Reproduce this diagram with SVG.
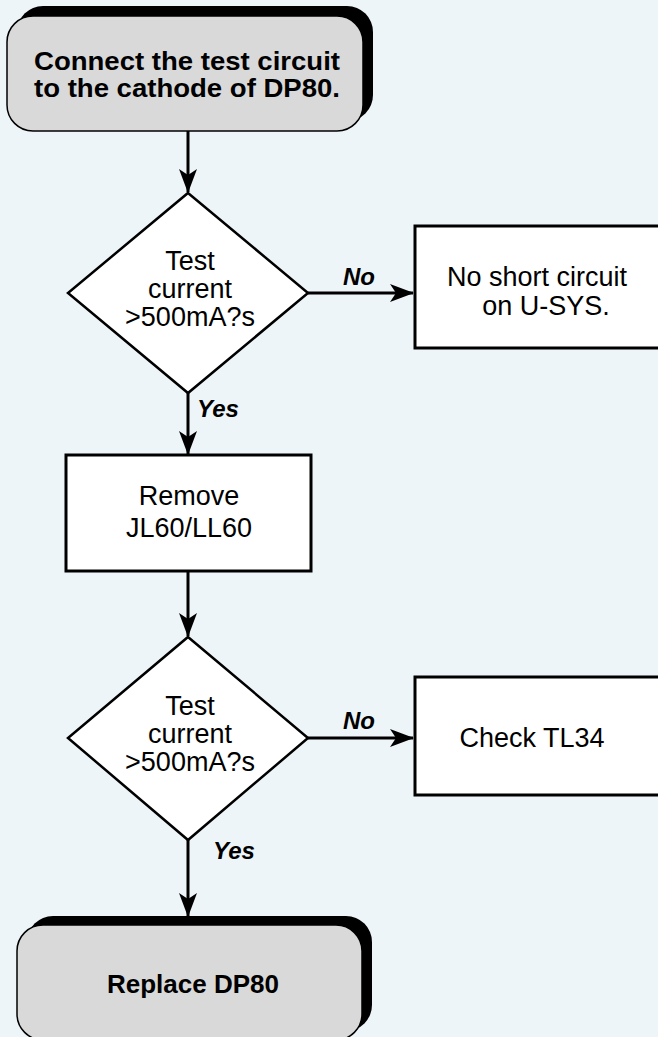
<svg xmlns="http://www.w3.org/2000/svg" width="658" height="1037" viewBox="0 0 658 1037">
<defs>
<marker id="ah" markerWidth="24" markerHeight="18" viewBox="0 0 24 18" refX="23" refY="9" orient="auto" markerUnits="userSpaceOnUse">
<path d="M0,0 L24,9 L0,18 L6,9 Z" fill="#000"/>
</marker>
<style>
.bg{fill:#eef5f8}
.term{fill:#d9d9d9;stroke:#000;stroke-width:1.5}
.shadow{fill:#000}
.box{fill:#fff;stroke:#000;stroke-width:3}
.dia{fill:#fff;stroke:#000;stroke-width:2.5}
.conn{stroke:#000;stroke-width:3;fill:none}
.t{font-family:"Liberation Sans",Arial,sans-serif;font-size:27px;fill:#000;text-anchor:middle}
.tb{font-family:"Liberation Sans",Arial,sans-serif;font-size:26px;font-weight:bold;fill:#000;text-anchor:middle}
.lbl{font-family:"Liberation Sans",Arial,sans-serif;font-size:24px;font-weight:bold;font-style:italic;fill:#000;text-anchor:middle}
</style>
</defs>
<rect class="bg" x="0" y="0" width="658" height="1037"/>

<g id="connectors">
<line class="conn" x1="188" y1="131" x2="188" y2="192" marker-end="url(#ah)"/>
<line class="conn" x1="308" y1="293" x2="413" y2="293" marker-end="url(#ah)"/>
<line class="conn" x1="188" y1="393" x2="188" y2="454" marker-end="url(#ah)"/>
<line class="conn" x1="188" y1="571" x2="188" y2="636" marker-end="url(#ah)"/>
<line class="conn" x1="308" y1="738" x2="413" y2="738" marker-end="url(#ah)"/>
<line class="conn" x1="188" y1="840" x2="188" y2="916" marker-end="url(#ah)"/>
<text class="lbl" x="359" y="285">No</text>
<text class="lbl" x="218" y="417">Yes</text>
<text class="lbl" x="359" y="729">No</text>
<text class="lbl" x="234" y="859">Yes</text>
</g>

<g id="start">
<rect class="shadow" x="17" y="6" width="356" height="115" rx="26"/>
<rect class="term" x="7" y="16" width="356" height="115" rx="26"/>
<text class="tb" x="187" y="70" textLength="306" lengthAdjust="spacingAndGlyphs">Connect the test circuit</text>
<text class="tb" x="187" y="97" textLength="306" lengthAdjust="spacingAndGlyphs">to the cathode of DP80.</text>
</g>

<g id="decision1">
<polygon class="dia" points="188,193 308,293 188,393 68,293"/>
<text class="t" x="190" y="270">Test</text>
<text class="t" x="190" y="298">current</text>
<text class="t" x="190" y="326">&gt;500mA?s</text>
</g>

<g id="noShort">
<rect class="box" x="415" y="226" width="260" height="122"/>
<text class="t" x="537" y="286">No short circuit</text>
<text class="t" x="546" y="315">on U-SYS.</text>
</g>

<g id="remove">
<rect class="box" x="66" y="455" width="245" height="116"/>
<text class="t" x="189" y="505">Remove</text>
<text class="t" x="189" y="537">JL60/LL60</text>
</g>

<g id="decision2">
<polygon class="dia" points="188,637 308,738 188,840 68,738"/>
<text class="t" x="190" y="715">Test</text>
<text class="t" x="190" y="743">current</text>
<text class="t" x="190" y="771">&gt;500mA?s</text>
</g>

<g id="checkTL34">
<rect class="box" x="415" y="677" width="260" height="118"/>
<text class="t" x="532" y="747">Check TL34</text>
</g>

<g id="end">
<rect class="shadow" x="27" y="916" width="345" height="115" rx="26"/>
<rect class="term" x="17" y="925" width="345" height="115" rx="26"/>
<text class="tb" x="193" y="993" font-size="27">Replace DP80</text>
</g>
</svg>
